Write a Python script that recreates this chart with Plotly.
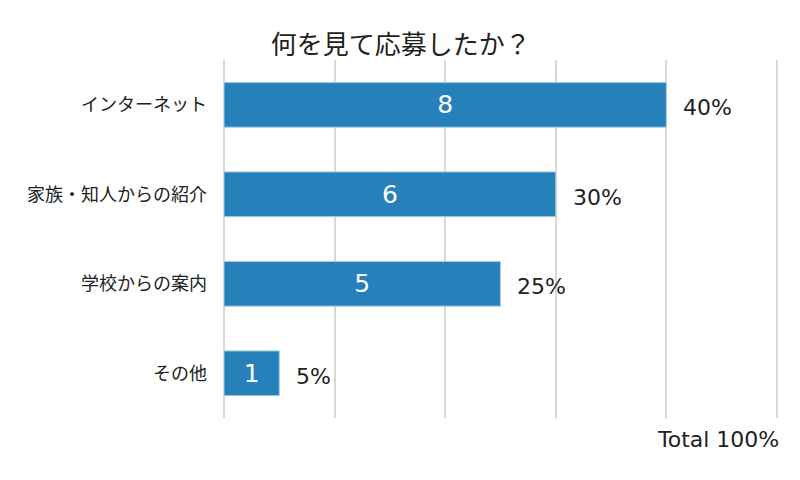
import plotly.graph_objects as go

categories = ["インターネット", "家族・知人からの紹介", "学校からの案内", "その他"]
counts = [8, 6, 5, 1]
percents = ["40%", "30%", "25%", "5%"]
title = "何を見て応募したか？"
total_label = "Total 100%"

JP = "Noto Sans CJK JP"
LAT = "DejaVu Sans, Noto Sans CJK JP"
BAR = "#2681BA"

fig = go.Figure()
fig.add_trace(go.Bar(
    y=categories, x=counts, orientation="h",
    width=0.5,
    marker=dict(color=BAR, line=dict(color="#a8cde4", width=1)),
    text=[str(c) for c in counts], textposition="inside",
    insidetextanchor="middle",
    textfont=dict(color="white", size=25, family=LAT),
    hoverinfo="skip",
))

for c, v, p in zip(categories, counts, percents):
    fig.add_annotation(x=v, y=c, text=p, showarrow=False, xanchor="left",
                       xshift=15, yshift=-3,
                       font=dict(size=22, color="#222", family=LAT))

fig.add_annotation(x=10, y=0, yref="paper", text=total_label, showarrow=False,
                   xanchor="right", yanchor="middle", yshift=-21, xshift=4,
                   font=dict(size=22, color="#222", family=LAT))

fig.update_layout(
    width=800, height=480,
    margin=dict(l=216, r=30, t=52, b=70, autoexpand=False),
    paper_bgcolor="white", plot_bgcolor="white",
    title=dict(text=title, x=0.491, xanchor="center", y=0.923, yanchor="middle",
               font=dict(size=26, color="#222", family=JP)),
    showlegend=False,
    font=dict(family=JP),
)
fig.update_xaxes(range=[0, 10.02], tickvals=[0, 2, 4, 6, 8, 10], showticklabels=False,
                 showgrid=True, gridcolor="#d9d9d9", gridwidth=1.5, zeroline=True,
                 zerolinecolor="#d9d9d9", zerolinewidth=1.5, showline=False, fixedrange=True)
fig.update_yaxes(autorange="reversed", ticks="", ticklabelstandoff=16,
                 tickfont=dict(size=18, color="#222", family=JP), showline=False)

fig.write_html("out.html")
